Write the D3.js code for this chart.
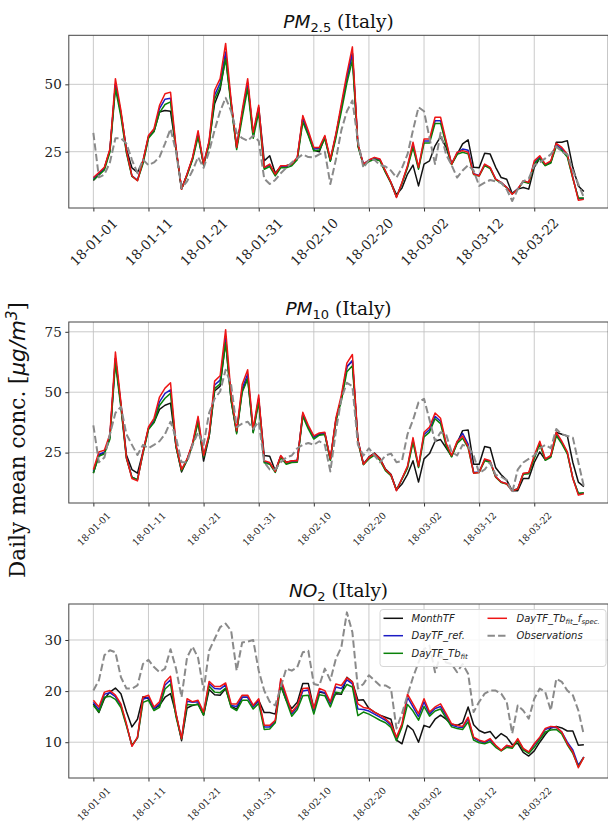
<!DOCTYPE html>
<html>
<head>
<meta charset="utf-8">
<script src="https://cdn.jsdelivr.net/npm/d3@7"></script>
<style>
  body { margin: 0; background: #fff; }
  svg { display: block; }
</style>
</head>
<body>
<svg id="fig" width="608" height="825"></svg>
<script>
// dates of the daily series: 2018-01-01 .. 2018-03-31
const startDate = "2018-01-01";
const endDate = "2018-03-31";
const xTickLabels = ["18-01-01", "18-01-11", "18-01-21", "18-01-31", "18-02-10",
                     "18-02-20", "18-03-02", "18-03-12", "18-03-22"];

const seriesNames = ["MonthTF", "DayTF_ref.", "DayTF_Tb_fit", "DayTF_Tb_fit_f_spec.", "Observations"];

// ---- PM2.5 ----
const pm25MonthTF = [14.3, 16.5, 19, 25.5, 50, 39.5, 26, 19, 17.3, 21.6,
  30.5, 32.5, 39.7, 40.3, 40, 26, 11.1, 16.5, 22.5, 31.5,
  20, 28.5, 42.8, 48, 60, 43, 26.6, 39, 50.5, 31,
  41.5, 21.6, 23.5, 17, 19.5, 19.8, 20.4, 22.5, 37.5, 31.5,
  25.5, 25, 30.5, 21.5, 31, 41.5, 52.5, 61.5, 27.5, 20,
  21.8, 22.7, 22, 17.5, 13.5, 9, 11.5, 16.7, 20, 12.3,
  20.4, 21.6, 27.2, 30.6, 26.6, 20.4, 24, 27.9, 29.4, 19.2,
  19, 24.4, 24.1, 19.2, 15.4, 14.8, 9.5, 11.1, 11.7, 11.1,
  19.2, 22.5, 20, 21, 28.5, 28.5, 29.1, 19.2, 12.3, 10.2];
const pm25Ref = [15, 17, 18.8, 25.5, 50, 39, 25, 16, 14.5, 21,
  30.5, 33, 41, 44.5, 44.8, 26, 11.3, 16.5, 22.5, 31.5,
  20.5, 28.5, 46, 50.5, 62, 43, 26.5, 39, 50.5, 31.5,
  41, 19, 20, 16.5, 19.5, 19.5, 20.2, 22.5, 37.5, 32,
  26, 26.2, 30.5, 22, 31, 41.5, 52.5, 61.5, 27.5, 20.5,
  21.8, 22.6, 22, 17.6, 13.5, 8.2, 13.4, 19.5, 27.5, 19,
  29, 29, 36.5, 36.5, 28.5, 20.5, 24.5, 26, 25.5, 16.8,
  16.2, 20.2, 19, 14.8, 13.5, 11.8, 9.4, 11.2, 14, 13.5,
  21, 23, 20.2, 21.3, 27.5, 26, 23.6, 15.4, 7.5, 7.6];
const pm25TbFit = [14.5, 16.3, 18.2, 24.8, 48.5, 38, 24.5, 15.8, 14.3, 20.5,
  30, 32.5, 39.5, 42.5, 43.5, 25.5, 11.2, 16.2, 22, 30.5,
  20.2, 27.5, 44.5, 49, 59.5, 42, 25.8, 37.5, 48.5, 30,
  39.5, 18.5, 19.5, 16, 19, 19, 19.8, 22, 36, 31,
  25.3, 25.6, 29.8, 21.5, 30, 40, 50.5, 59, 27, 20,
  21.3, 22.2, 21.6, 17.3, 13.3, 8.3, 13.2, 19, 26.5, 18.5,
  28.2, 28.2, 35.5, 35.5, 27.8, 20.2, 24, 24.8, 24.2, 16.5,
  16, 19.8, 18.7, 14.6, 13.3, 11.6, 9.4, 11, 13.8, 13.3,
  20.5, 22.5, 19.8, 20.8, 27, 25.4, 23, 15, 7.8, 7.8];
const pm25Fspec = [15.4, 17.3, 19.2, 26, 52.1, 40.3, 25.4, 16, 14.2, 21.6,
  31, 33.5, 42.2, 46.5, 47.1, 26.6, 11.1, 16.7, 22.9, 32.8,
  20.4, 29.1, 47.8, 52.1, 65.2, 44, 26.6, 40.3, 52.1, 32.2,
  42.2, 19.2, 20.4, 16.7, 19.8, 19.8, 20.4, 22.9, 38.4, 32.8,
  26.6, 26.6, 31, 22.3, 31.6, 42.8, 54, 63.9, 27.9, 20.4,
  21.9, 22.9, 22.3, 17.9, 13.6, 8, 13.6, 19.8, 28.5, 19.2,
  29.7, 29.7, 37.8, 37.8, 29.1, 20.4, 24.8, 25.4, 24.8, 16.7,
  16, 20.4, 19.2, 14.8, 13.6, 11.7, 9.2, 11.1, 14.2, 13.6,
  21.6, 23.5, 20.4, 21.6, 28.1, 26.6, 24.1, 15.4, 7, 7.3];
const pm25Obs = [32, 15.5, 16.5, 21, 30, 30, 28, 22, 17, 22,
  20, 21, 23, 28, 33.5, 25, 11.5, 14, 18, 23,
  19, 25, 33, 40, 45, 40, 32, 30, 29, 31,
  29, 15, 13, 14.5, 17, 19, 21, 22.5, 24, 23,
  22.9, 24, 25, 13, 22, 33, 40, 44, 29, 19,
  22, 22, 20, 19.5, 18, 15.4, 19, 24, 33, 41.5,
  40, 30, 20.4, 32, 24, 20, 15.4, 18, 20, 18,
  12.3, 13.5, 14.5, 14, 13.5, 11, 6.7, 11, 14, 15,
  20, 21, 22.5, 24, 27, 25, 24, 18, 13, 8];

// ---- PM10 ----
const pm10MonthTF = [16.5, 24, 25, 31.5, 64, 45, 24, 18, 16.5, 25.3,
  35, 37.5, 42.9, 44.6, 45.5, 27.5, 17, 22, 28.5, 38,
  21.5, 31.5, 50.5, 52.5, 71, 46.5, 33.5, 50.5, 56, 33.5,
  47, 23.8, 23.5, 17.5, 23.5, 21, 21.5, 21.8, 41, 35.5,
  31.5, 32.5, 33, 22, 38.5, 47.5, 60.5, 63, 30, 20.2,
  23.2, 24.8, 22.6, 18.2, 16, 9.5, 12, 16, 21.6, 12.8,
  22.4, 24.6, 29.7, 30.4, 27, 23.5, 29, 34.1, 34.4, 20.2,
  20.2, 27.5, 27, 18.7, 15.8, 13.6, 9.2, 9.2, 14.3, 14.3,
  20.9, 25.3, 22, 23.5, 33.4, 32.6, 31.9, 20.9, 12.8, 10.9];
const pm10Ref = [17.2, 24.2, 25.2, 31.5, 64, 44.5, 23, 14.8, 13.8, 25,
  35, 38.2, 46, 49.5, 51, 27.8, 17.8, 22, 28.5, 39,
  23.5, 32, 53, 55, 73, 47.5, 33.5, 51.5, 57.5, 34,
  47.5, 21.2, 20.5, 17, 23.5, 20.5, 21.2, 21.3, 41, 35.5,
  31.2, 32.8, 33, 22.2, 38.5, 47.5, 60.5, 63, 30, 20.4,
  22.8, 24.3, 22.2, 17.8, 15.6, 9.5, 14.2, 19, 30.2, 19.2,
  32.5, 34.5, 40, 38, 28.5, 23.5, 29.3, 33, 28.5, 16.8,
  17, 22, 21.3, 15, 12.8, 12.1, 9.3, 10, 16.3, 16.5,
  23.2, 29, 22.2, 23.5, 32.5, 29.2, 25, 14.5, 8, 8.2];
const pm10TbFit = [16.5, 23.5, 24.5, 30.5, 62, 43.5, 22.5, 14.8, 13.8, 24.5,
  34.5, 37.5, 44.5, 47.5, 49.5, 27.3, 17.5, 21.8, 28, 37.5,
  23.2, 31.5, 51.5, 53.5, 70.5, 46.5, 32.8, 50, 55.5, 33.2,
  46, 20.8, 20.2, 16.8, 23, 20.2, 20.9, 21, 40, 34.8,
  30.6, 32.2, 32.5, 21.8, 37.8, 46.5, 58.5, 61, 29.5, 20,
  22.4, 24, 21.8, 17.5, 15.4, 9.6, 14, 18.6, 29.2, 18.8,
  31.5, 33.5, 39, 37, 27.8, 23.2, 28.8, 31, 27, 16.6,
  16.8, 21.6, 21, 14.8, 12.6, 12, 9.3, 9.9, 16, 16.2,
  22.6, 28.5, 21.8, 23, 32, 28.6, 24.5, 14.4, 8.2, 8.4];
const pm10Fspec = [18, 25.3, 26, 32.6, 66.6, 45.8, 23, 14.3, 13.3, 25.3,
  35.6, 39.2, 48, 51.7, 53.9, 28.2, 18, 22.4, 29, 40,
  23.8, 32.6, 54.6, 56.8, 75.9, 48.8, 34, 53.2, 59.3, 34.8,
  48.8, 21.6, 20.9, 17.2, 23.8, 20.9, 21.6, 21.6, 41.7, 36.3,
  31.9, 33.1, 33.4, 22.4, 39.2, 48.8, 62, 65.6, 30.4, 20.2,
  23, 24.6, 22.4, 18, 15.8, 9.2, 14.3, 19.4, 31.2, 19.4,
  33.4, 35.6, 41.4, 39.2, 29, 23.8, 29.7, 31.9, 27.5, 16.5,
  16.8, 22.4, 21.6, 15, 12.8, 12.1, 9.2, 9.9, 16.5, 16.8,
  23.8, 29.7, 22.4, 23.8, 33.4, 29.7, 25.3, 14.3, 7.4, 8];
const pm10Obs = [36.3, 21, 23, 32.6, 41.4, 44, 32.6, 28.2, 24, 28.2,
  26.8, 28.2, 29.7, 32.6, 37.8, 31.2, 21, 21, 28.2, 33.4,
  28.2, 41.4, 47.3, 50.3, 59.3, 53, 35.6, 37, 37.8, 34.8,
  37.8, 21, 18, 18, 21, 23, 23.8, 26.8, 28.2, 29,
  28.2, 29.7, 28.2, 17.2, 33.8, 47.3, 53.9, 52.5, 28.2, 23.8,
  26.8, 23.8, 21, 23.8, 24.6, 21, 21.6, 32.6, 38.5, 45.8,
  47.3, 38.5, 29.7, 33.4, 32.6, 25.3, 23.8, 28.2, 27.5, 23.8,
  16.5, 18, 20.9, 15.8, 15, 13.6, 8.4, 18, 20.9, 22.4,
  23.8, 26.8, 28.2, 26.8, 34.8, 32.6, 31.9, 31.2, 21, 11];

// ---- NO2 ----
const no2MonthTF = [17.5, 15.8, 18.5, 19.8, 20.6, 19.5, 16, 13, 14.5, 18.9,
  18.5, 16.5, 17.2, 18.8, 19.5, 15.5, 10.3, 16.7, 17.2, 17.5,
  15.3, 20.3, 19.3, 19.2, 20.5, 17, 16.5, 18.8, 18.8, 17.2,
  18.2, 15.8, 15.8, 15.5, 21, 18.2, 16.6, 17.8, 21.5, 21.5,
  16.5, 19.8, 19.6, 17.8, 19.5, 19.4, 22.7, 21.8, 18.2, 18.3,
  16.6, 15.9, 15.3, 14.9, 14.5, 10.4, 9.7, 13.3, 12.4, 10,
  13.3, 12.9, 14.5, 15.3, 14.5, 13.5, 13.3, 13.8, 16.9, 13.4,
  12.3, 11.8, 12.1, 10.7, 11.7, 11, 9.5, 9.8, 8, 7.3,
  8.3, 10, 11.5, 12.8, 13.1, 12.8, 12.2, 12.2, 9.4, 9.5];
const no2Ref = [17.8, 16.4, 19.4, 19.7, 18.9, 17.2, 13.4, 9.3, 10.9, 18.4,
  18.8, 16.6, 17.5, 21.2, 22.2, 15.3, 10.7, 18, 17.8, 17.9,
  15.6, 21.5, 20.5, 20.4, 21.2, 17.2, 17, 18.8, 18.8, 16.9,
  18.1, 13, 13, 14.1, 22, 18.7, 15.5, 16.9, 20, 20.2,
  16.2, 20, 19.7, 17.5, 20.8, 20.5, 22.2, 21.4, 16.5, 16.4,
  16.1, 15.5, 14.9, 14.3, 13.3, 10.7, 13.4, 18.8, 16.9, 15,
  17.9, 15.5, 16.6, 17, 15.2, 13.3, 13, 12.9, 14.6, 10.8,
  10.2, 9.9, 10.5, 9.3, 8.4, 9.3, 9, 10.5, 8.7, 8,
  9.5, 10.8, 12.5, 12.9, 12.9, 12, 10, 8.5, 5.5, 7.1];
const no2TbFit = [17.2, 15.9, 18.8, 19, 18.4, 16.8, 13.2, 9.4, 10.8, 17.8,
  18.2, 16.2, 16.8, 20.4, 21.4, 14.9, 10.6, 17.4, 17.3, 17.4,
  15.3, 21, 19.8, 19.7, 20.6, 16.8, 16.2, 18.2, 18.2, 16.5,
  17.6, 12.5, 12.6, 13.8, 21.2, 18.1, 15.1, 16.4, 19.1, 19.2,
  15.5, 19.3, 19.1, 16.9, 19.8, 19.6, 21.3, 20.8, 15.2, 15.9,
  15.5, 14.9, 14.3, 13.8, 12.9, 10.3, 13, 17.4, 16.1, 14.3,
  17, 15.1, 16.1, 16.5, 14.7, 13, 12.7, 12.5, 14, 10.4,
  9.9, 9.7, 10.1, 9, 8.3, 9, 8.8, 10.3, 8.5, 7.8,
  9, 10.5, 12, 12.4, 12.5, 11.6, 9.5, 7.8, 5.2, 7.1];
const no2Fspec = [18.2, 16.9, 19.8, 20.1, 19.2, 17.5, 13.6, 9.2, 11, 18.8,
  19.2, 16.9, 17.9, 21.8, 22.9, 15.6, 10.7, 18.5, 17.9, 18.2,
  15.9, 21.9, 20.9, 20.9, 21.6, 17.5, 17.5, 19.2, 19.2, 17.2,
  18.5, 13.3, 13.3, 14.3, 22.4, 19.2, 15.9, 17.2, 20.5, 20.6,
  16.6, 20.5, 20.1, 17.9, 21.4, 21.1, 22.6, 21.8, 17.5, 16.8,
  16.6, 15.9, 15.3, 14.6, 13.6, 11, 13.6, 19.4, 17.5, 15.6,
  18.5, 15.9, 16.9, 17.5, 15.6, 13.6, 13.3, 13.1, 14.9, 11,
  10.4, 10.1, 10.7, 9.4, 8.4, 9.4, 9.1, 10.7, 8.8, 8.1,
  9.7, 11, 12.7, 13.1, 13, 12, 9.7, 8.1, 5, 7.1];
const no2Obs = [20.1, 22.1, 27, 28, 27.6, 22.7, 20.5, 20.5, 21.1, 25.3,
  26.1, 24.7, 23.7, 24.4, 28.2, 24.4, 18.8, 26.6, 28.7, 26.5,
  20.1, 27.9, 30.2, 32.5, 33.2, 31.8, 24, 29.5, 29.7, 30,
  24, 20.1, 17.9, 17.2, 20.8, 24.4, 24, 24.7, 27.6, 27.9,
  21.4, 21.1, 24.4, 22.1, 26.3, 28.6, 35.4, 31.5, 20.5, 21.4,
  23.1, 22.1, 21.1, 21.1, 20.5, 12.7, 15.6, 19.2, 22.7, 25.6,
  28.2, 28.9, 23.7, 27, 25.6, 25.3, 23.7, 25.3, 23.4, 15.9,
  17.9, 19.5, 20.1, 20.1, 19.5, 17.9, 11.7, 17.2, 16.2, 14.6,
  18.5, 20.5, 19.8, 16.2, 22.4, 21.8, 20.1, 19.2, 16.2, 11.4];

const pm25Ticks = [25, 50];
const pm10Ticks = [25, 50, 75];
const no2Ticks = [10, 20, 30];

// ---- styling / layout ----
const W = 608, H = 825;
const axLeft = 68.8, axRight = 608.2;
const lineColors = ["#111111", "#1c1cc4", "#0a820a", "#ee1515", "#8a8a8a"];
const serif = '"DejaVu Serif", "Liberation Serif", serif';
const mathFont = '"DejaVu Sans", sans-serif';

const panels = [
  { name: "PM", sub: "2.5", series: [pm25MonthTF, pm25Ref, pm25TbFit, pm25Fspec, pm25Obs],
    ticks: pm25Ticks, yDomain: [4.1, 68.2], top: 35.3, bottom: 208, xFont: 13.5 },
  { name: "PM", sub: "10", series: [pm10MonthTF, pm10Ref, pm10TbFit, pm10Fspec, pm10Obs],
    ticks: pm10Ticks, yDomain: [4.14, 79.06], top: 322, bottom: 503, xFont: 9.5 },
  { name: "NO", sub: "2", series: [no2MonthTF, no2Ref, no2TbFit, no2Fspec, no2Obs],
    ticks: no2Ticks, yDomain: [3.0, 37.04], top: 604, bottom: 778, xFont: 9.5, legend: true }
];

const parseDay = d3.utcParse("%Y-%m-%d");
const parseTick = d3.utcParse("%y-%m-%d");
const days = d3.utcDay.range(parseDay(startDate), d3.utcDay.offset(parseDay(endDate), 1));

// matplotlib style 5% margins on x
const x = d3.scaleUtc()
  .domain([d3.utcHour.offset(days[0], -4.45 * 24), d3.utcHour.offset(days[days.length - 1], 4.45 * 24)])
  .range([axLeft, axRight]);
const xTicks = xTickLabels.map(parseTick);

const svg = d3.select("#fig");
svg.append("rect").attr("width", W).attr("height", H).attr("fill", "#fff");

panels.forEach((p, pi) => {
  const y = d3.scaleLinear().domain(p.yDomain).range([p.bottom, p.top]);
  const g = svg.append("g");

  // grid
  g.append("g").selectAll("line").data(xTicks).join("line")
    .attr("x1", d => x(d)).attr("x2", d => x(d))
    .attr("y1", p.top).attr("y2", p.bottom)
    .attr("stroke", "#c4c4c4").attr("stroke-width", 0.9);
  g.append("g").selectAll("line").data(p.ticks).join("line")
    .attr("x1", axLeft).attr("x2", axRight)
    .attr("y1", d => y(d)).attr("y2", d => y(d))
    .attr("stroke", "#c4c4c4").attr("stroke-width", 0.9);

  // series
  const clipId = "clip" + pi;
  g.append("clipPath").attr("id", clipId).append("rect")
    .attr("x", axLeft).attr("y", p.top).attr("width", axRight - axLeft).attr("height", p.bottom - p.top);
  const line = d3.line().x((d, i) => x(days[i])).y(d => y(d));
  const lines = g.append("g").attr("clip-path", `url(#${clipId})`);
  p.series.forEach((s, si) => {
    lines.append("path").datum(s)
      .attr("d", line)
      .attr("fill", "none")
      .attr("stroke", lineColors[si])
      .attr("stroke-width", si === 4 ? 2 : 1.5)
      .attr("stroke-dasharray", si === 4 ? "7.4,3.2" : null)
      .attr("stroke-linejoin", "round");
  });

  // axes
  const yAxis = d3.axisLeft(y).tickValues(p.ticks).tickSize(3.5).tickPadding(3.5);
  const ya = g.append("g").attr("transform", `translate(${axLeft},0)`).call(yAxis);
  ya.select(".domain").remove();
  ya.selectAll("line").attr("stroke", "#333");
  ya.selectAll("text").attr("font-family", serif).attr("font-size", 13.5).attr("fill", "#222");

  const xAxis = d3.axisBottom(x).tickValues(xTicks).tickSize(3.5).tickFormat((d, i) => xTickLabels[i]);
  const xa = g.append("g").attr("transform", `translate(0,${p.bottom})`).call(xAxis);
  xa.select(".domain").remove();
  xa.selectAll("line").attr("stroke", "#333");
  xa.selectAll("text")
    .attr("font-family", serif).attr("font-size", p.xFont).attr("fill", "#222")
    .attr("text-anchor", "middle").attr("dy", "0.35em").attr("y", 0)
    .each(function () {
      const L = this.getComputedTextLength();
      const h = p.xFont * 1.15;
      const half = (L + h) * Math.SQRT1_2 / 2;
      d3.select(this).attr("transform", `translate(0,${3.5 + 3.5 + half}) rotate(-45)`);
    });

  // frame
  g.append("rect")
    .attr("x", axLeft).attr("y", p.top)
    .attr("width", axRight - axLeft).attr("height", p.bottom - p.top)
    .attr("fill", "none").attr("stroke", "#444").attr("stroke-width", 1);

  // title
  const cx = (axLeft + axRight) / 2;
  const t = g.append("text").attr("x", cx).attr("y", p.top - 7.3)
    .attr("text-anchor", "middle").attr("font-size", 18.5).attr("fill", "#111");
  t.append("tspan").attr("font-family", mathFont).attr("font-style", "italic").text(p.name);
  t.append("tspan").attr("font-family", mathFont).attr("font-size", 13).attr("dy", 4).text(p.sub);
  t.append("tspan").attr("font-family", serif).attr("dy", -4).text(" (Italy)");

  if (p.legend) drawLegend(g);
});

function drawLegend(g) {
  const lg = g.append("g");
  lg.append("rect").attr("x", 380).attr("y", 609.5).attr("width", 226).attr("height", 57)
    .attr("rx", 3).attr("fill", "#fff").attr("fill-opacity", 0.85)
    .attr("stroke", "#d6d6d6").attr("stroke-width", 1);
  const cols = [{ lx: 383.5, tx: 411.5 }, { lx: 487.5, tx: 516.5 }];
  const rows = [618.3, 635.7, 653.3];
  const pieces = [
    [["MonthTF"]],
    [["DayTF_ref."]],
    [["DayTF_Tb"], ["fit", true]],
    [["DayTF_Tb"], ["fit", true], ["_f"], ["spec.", true]],
    [["Observations"]]
  ];
  pieces.forEach((parts, i) => {
    const col = cols[i < 3 ? 0 : 1];
    const ry = rows[i < 3 ? i : i - 3];
    lg.append("line").attr("x1", col.lx).attr("x2", col.lx + 19.5)
      .attr("y1", ry).attr("y2", ry)
      .attr("stroke", lineColors[i]).attr("stroke-width", i === 4 ? 2 : 1.5)
      .attr("stroke-dasharray", i === 4 ? "7.4,3.2" : null);
    const txt = lg.append("text").attr("x", col.tx).attr("y", ry + 3.6)
      .attr("font-family", mathFont).attr("font-style", "italic")
      .attr("font-size", 10).attr("fill", "#222");
    let shifted = false;
    parts.forEach(([s, sub]) => {
      const ts = txt.append("tspan").text(s);
      if (sub && !shifted) { ts.attr("font-size", 7).attr("dy", 2.2); shifted = true; }
      else if (!sub && shifted) { ts.attr("dy", -2.2); shifted = false; }
      else if (sub) ts.attr("font-size", 7);
    });
  });
}

// shared y label
const yl = svg.append("text")
  .attr("transform", "translate(25,440) rotate(-90)")
  .attr("text-anchor", "middle").attr("font-size", 21.5).attr("fill", "#111");
yl.append("tspan").attr("font-family", serif).text("Daily mean conc. [");
yl.append("tspan").attr("font-family", mathFont).attr("font-style", "italic").text("\u03bcg/m");
yl.append("tspan").attr("font-family", mathFont).attr("font-style", "italic")
  .attr("font-size", 15).attr("dy", -8).text("3");
yl.append("tspan").attr("font-family", serif).attr("dy", 8).text("]");
</script>
</body>
</html>
